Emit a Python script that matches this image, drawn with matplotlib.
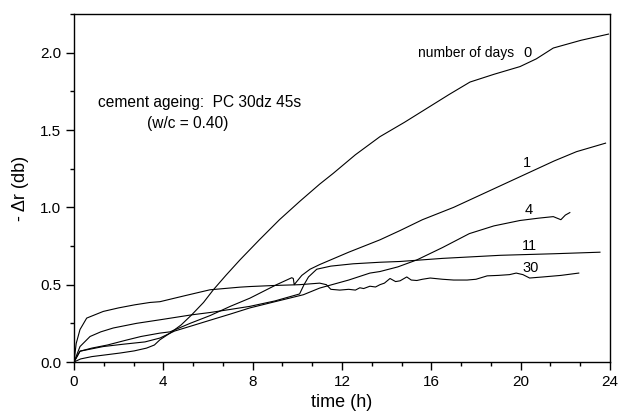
import matplotlib
matplotlib.use("Agg")
import matplotlib.pyplot as plt
from matplotlib.ticker import MultipleLocator

plt.rcParams['font.family'] = ['Liberation Sans', 'DejaVu Sans']

# day 0
t0 = [0, 0.3, 0.8, 1.46, 2.06, 2.7, 3.25, 3.6, 3.85, 4.3, 4.8, 5.27, 5.8, 6.24, 6.8, 7.43, 8.3, 9.2,
      10.12, 11.0, 11.61, 12.6, 13.7, 14.8, 15.8, 16.8, 17.73, 18.8, 19.97, 20.7, 21.46, 22.7, 23.93]
y0 = [0, 0.02, 0.035, 0.047, 0.058, 0.072, 0.09, 0.11, 0.144, 0.187, 0.24, 0.305, 0.385, 0.467, 0.56, 0.66, 0.79, 0.92,
      1.04, 1.15, 1.22, 1.34, 1.457, 1.55, 1.64, 1.73, 1.81, 1.86, 1.91, 1.96, 2.03, 2.08, 2.12]

# day 1
t1 = [0, 0.27, 0.8, 1.5, 2.3, 3.0, 3.85, 4.3, 5.2, 6.09, 7.0, 7.88, 9.07, 9.75, 9.82, 9.86, 10.2, 10.57, 11.0,
      12.3, 13.7, 14.6, 15.6, 17.0, 18.5, 20.3, 21.5, 22.5, 23.8]
y1 = [0, 0.07, 0.09, 0.11, 0.14, 0.165, 0.187, 0.195, 0.25, 0.30, 0.36, 0.413, 0.50, 0.545, 0.54, 0.5, 0.56, 0.60, 0.63,
      0.71, 0.79, 0.85, 0.92, 1.0, 1.1, 1.22, 1.3, 1.36, 1.415]

# day 4
t4 = [0, 0.27, 1.31, 2.2, 3.18, 3.85, 4.5, 5.3, 6.09, 7.0, 7.88, 9.0, 10.27, 11.0, 12.3, 13.25, 13.7, 14.5,
      15.35, 16.5, 17.7, 18.8, 19.97, 20.8, 21.46, 21.8, 22.0, 22.2]
y4 = [0, 0.07, 0.1, 0.115, 0.13, 0.155, 0.2, 0.235, 0.27, 0.31, 0.35, 0.39, 0.435, 0.478, 0.53, 0.575, 0.585, 0.615,
      0.66, 0.74, 0.83, 0.88, 0.915, 0.93, 0.94, 0.92, 0.95, 0.966]

# day 11
t11 = [0, 0.27, 0.72, 1.2, 1.76, 2.8, 3.85, 5.27, 6.09, 7.0, 7.88, 9.0, 10.1, 10.3, 10.5, 10.87, 11.5, 12.5,
       13.7, 14.6, 16.5, 19.1, 21.5, 23.55]
y11 = [0, 0.1, 0.165, 0.195, 0.22, 0.25, 0.273, 0.305, 0.32, 0.34, 0.36, 0.395, 0.44, 0.5, 0.55, 0.6, 0.62, 0.635,
       0.645, 0.65, 0.67, 0.69, 0.70, 0.71]

# day 30
t30 = [0, 0.1, 0.27, 0.57, 1.31, 2.0, 2.73, 3.4, 3.85, 5.0, 6.09, 7.43, 7.88, 9.0, 10.1, 11.0, 11.3, 11.5,
       11.9, 12.3, 12.6, 12.8, 12.97, 13.25, 13.5, 13.7, 13.9, 14.15, 14.4, 14.6, 14.9, 15.1, 15.35, 15.6,
       15.95, 16.5, 17.0, 17.6, 18.0, 18.5, 19.0, 19.5, 19.8, 20.1, 20.4, 21.0, 21.8, 22.6]
y30 = [0, 0.12, 0.21, 0.284, 0.327, 0.35, 0.37, 0.385, 0.39, 0.43, 0.467, 0.484, 0.488, 0.495, 0.50, 0.51, 0.50, 0.47,
       0.465, 0.47, 0.465, 0.48, 0.475, 0.49, 0.485, 0.50, 0.51, 0.54, 0.52, 0.525, 0.55, 0.53, 0.527, 0.535,
       0.543, 0.535, 0.53, 0.53, 0.535, 0.557, 0.56, 0.565, 0.575, 0.565, 0.543, 0.55, 0.56, 0.575]

series = [(t0, y0), (t1, y1), (t4, y4), (t11, y11), (t30, y30)]

curve_labels = ["1", "4", "11", "30"]
curve_label_pos = [(20.3, 1.285), (20.35, 0.98), (20.4, 0.75), (20.45, 0.61)]

fig = plt.figure(figsize=(6.19, 4.19), dpi=100)
ax = fig.add_axes([0.1195, 0.136, 0.866, 0.8306])

for t, y in series:
    ax.plot(t, y, color='black', lw=0.8)

ax.set_xlim(0, 24)
ax.set_ylim(0, 2.25)
ax.xaxis.set_major_locator(MultipleLocator(4))
ax.xaxis.set_minor_locator(MultipleLocator(4 / 3))
ax.yaxis.set_major_locator(MultipleLocator(0.5))
ax.yaxis.set_minor_locator(MultipleLocator(0.25))
ax.yaxis.set_major_formatter(matplotlib.ticker.FormatStrFormatter('%.1f'))
ax.tick_params(which='both', direction='out', top=False, right=False, labelsize=11, width=1)
ax.tick_params(which='major', length=5.5)
ax.tick_params(which='minor', length=3)
for s in ax.spines.values():
    s.set_linewidth(1.0)

ax.set_xlabel("time (h)", fontsize=13, labelpad=4)
ax.set_ylabel("- Δr (db)", fontsize=13, labelpad=8)

ax.text(15.4, 2.0, "number of days", fontsize=10, ha='left', va='center')
ax.text(20.3, 2.0, "0", fontsize=10.5, ha='center', va='center')
for lab, (x, y) in zip(curve_labels, curve_label_pos):
    ax.text(x, y, lab, fontsize=10.5, ha='center', va='center')

ax.text(1.08, 1.68, "cement ageing:  PC 30dz 45s", fontsize=11.2, ha='left', va='center')
ax.text(3.27, 1.545, "(w/c = 0.40)", fontsize=11.2, ha='left', va='center')

fig.savefig("out.png", dpi=100)
